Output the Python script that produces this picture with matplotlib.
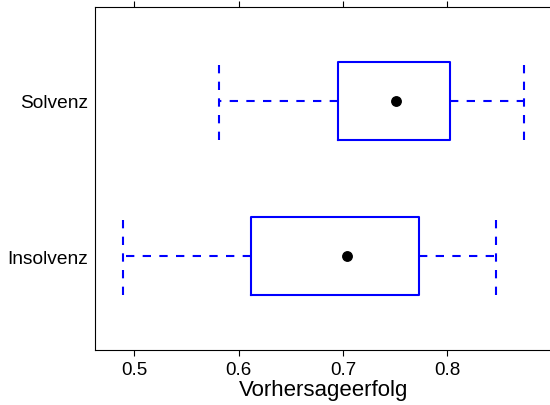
import matplotlib
matplotlib.use("Agg")
import matplotlib.pyplot as plt

plt.rcParams['font.family'] = ['Liberation Sans', 'DejaVu Sans']

# Gruppen und Kennzahlen (Whisker, Quartile, Median)
groups = ['Insolvenz', 'Solvenz']
whisker_low = [0.4892, 0.5809]
q1 = [0.6116, 0.6952]
median = [0.7042, 0.7508]
q3 = [0.7729, 0.8029]
whisker_high = [0.8467, 0.8732]
xticks = [0.5, 0.6, 0.7, 0.8]

fig = plt.figure(figsize=(5.5, 4.06), dpi=100)
ax = fig.add_axes([95 / 550, 55 / 406, 457 / 550, 343 / 406])

stats = []
for i, g in enumerate(groups):
    stats.append({'label': g, 'whislo': whisker_low[i], 'q1': q1[i],
                  'med': median[i], 'q3': q3[i], 'whishi': whisker_high[i]})

blue = '#0000FF'
pos = list(range(1, len(groups) + 1))
ax.bxp(stats, positions=pos, widths=0.5, capwidths=0.5, vert=False,
       showfliers=False,
       boxprops=dict(color=blue, linewidth=1.5),
       whiskerprops=dict(color=blue, linewidth=1.5, linestyle=(0, (4, 4))),
       capprops=dict(color=blue, linewidth=1.5, linestyle=(0, (4, 4))),
       medianprops=dict(linestyle='none'))
ax.plot(median, pos, 'o', color='black', markersize=6.8, zorder=5)

ax.set_xlim(0.46233, 0.90035)
ax.set_ylim(0.4, 2.6)
ax.set_xticks(xticks)
ax.set_xticklabels([str(t) for t in xticks])
ax.set_yticks(pos)
ax.set_yticklabels(groups)
ax.tick_params(axis='x', top=True, direction='out', length=4, width=0.8,
               labelsize=13.5, pad=4)
ax.tick_params(axis='y', length=0, labelsize=13.8, pad=5)
ax.set_xlabel('Vorhersageerfolg', fontsize=16, labelpad=1)
for s in ax.spines.values():
    s.set_linewidth(0.8)
ax.spines['right'].set_visible(False)

fig.savefig('out.png', dpi=100)
